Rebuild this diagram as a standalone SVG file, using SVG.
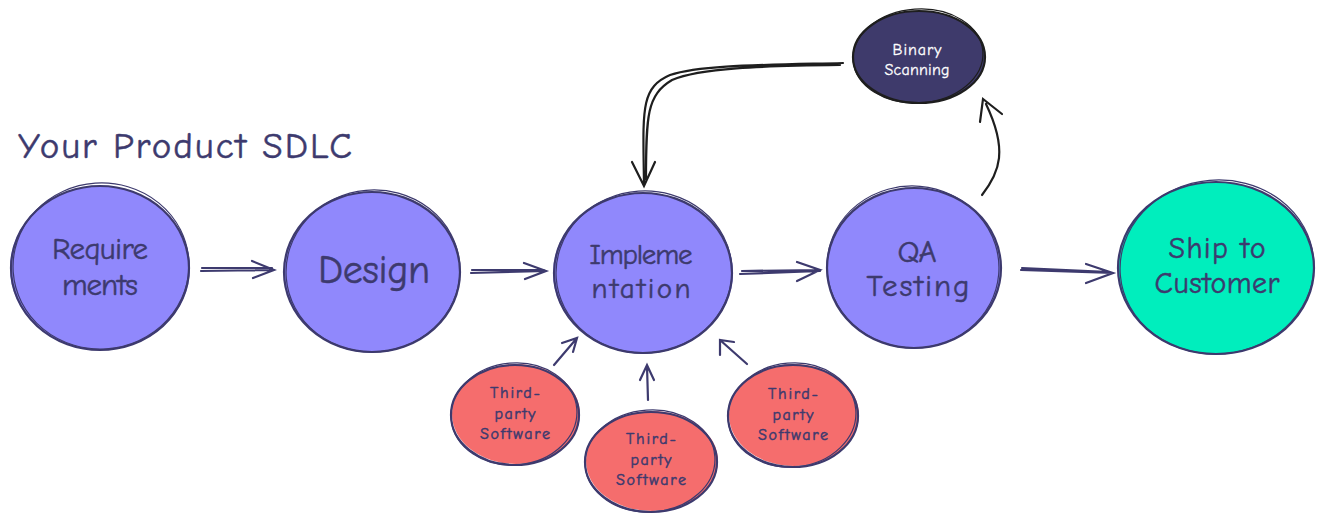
<svg xmlns="http://www.w3.org/2000/svg" width="1324" height="520" viewBox="0 0 1324 520">
<defs>
<style>
.t{font-family:"Comic Neue","Lato","Noto Sans",sans-serif;fill:#3d3a6e;stroke:#3d3a6e;stroke-width:0.5;text-anchor:middle}
.w{fill:#ffffff;stroke:#ffffff;stroke-width:0.3}
.s1{stroke:#3d3a6e;stroke-width:2.2;fill:none}
.s2{stroke:#3d3a6e;stroke-width:1.2;fill:none}
.k1{stroke:#1e1e1e;stroke-width:2.2;fill:none}
.k2{stroke:#1e1e1e;stroke-width:1.2;fill:none}
.purple{fill:#9088fc}
.green{fill:#00eebd}
.red{fill:#f56d6d}
.dark{fill:#3e3a6b}
.c{stroke:#3d3a6e;stroke-width:2.2;fill:none;stroke-linecap:round}
.ck{stroke:#1e1e1e;stroke-width:2.2;fill:none;stroke-linecap:round}
</style>
</defs>
<rect width="1324" height="520" fill="#ffffff"/>
<text class="t" x="18" y="158" textLength="334" lengthAdjust="spacing" style="text-anchor:start;font-size:37px">Your Product SDLC</text>

<g id="connectors">
<path class="c" d="M201 271 L274 270 M202 268 L272 268 M252 261 L274 270 L253 278"/>
<path class="c" d="M471 273 L546 271 M472 270 L544 270 M524 263 L546 271 L525 279"/>
<path class="c" d="M740 274 L820 271 M742 271 L818 270 M797 262 L820 270 L797 281"/>
<path class="c" d="M1021 270 L1113 273 M1022 268 L1110 272 M1086 264 L1113 273 L1086 283"/>
<path class="ck" d="M843 63 C760 65 700 65 670 75 C640 88 643 110 644 185 M840 65 C760 66 700 68 672 80 C647 95 646 115 646 180 M632 162 L644 186 L655 162"/>
<path class="ck" d="M982 195 C1000 172 1008 150 986 104 M980 122 L983 99 L1002 114"/>
<path class="c" d="M554 365 L577 338 M562 343 L577 338 L573 352"/>
<path class="c" d="M648 400 L647 366 M640 380 L647 365 L654 380"/>
<path class="c" d="M747 364 L720 340 M720 355 L720 340 L734 342"/>
</g>

<g id="requirements">
<ellipse class="purple" cx="100" cy="268" rx="90" ry="82"/>
<ellipse class="s1" cx="100" cy="268" rx="89" ry="82"/>
<ellipse class="s2" cx="101" cy="266" rx="88" ry="83" transform="rotate(-4 101 266)"/>
<text class="t" x="100" y="259" font-size="31" textLength="96" lengthAdjust="spacing">Require</text>
<text class="t" x="100" y="295" font-size="31" textLength="76" lengthAdjust="spacing">ments</text>
</g>

<g id="design">
<ellipse class="purple" cx="372" cy="272" rx="88" ry="80"/>
<ellipse class="s1" cx="372" cy="272" rx="88" ry="80"/>
<ellipse class="s2" cx="373" cy="271" rx="87" ry="81" transform="rotate(-5 373 271)"/>
<text class="t" x="374" y="283" font-size="40" textLength="112" lengthAdjust="spacing">Design</text>
</g>

<g id="implementation">
<ellipse class="purple" cx="643" cy="273" rx="90" ry="80"/>
<ellipse class="s1" cx="643" cy="273" rx="89" ry="80"/>
<ellipse class="s2" cx="644" cy="272" rx="88" ry="81" transform="rotate(-4 644 272)"/>
<text class="t" x="641" y="264" font-size="29" textLength="103" lengthAdjust="spacing">Impleme</text>
<text class="t" x="641" y="298" font-size="29" textLength="99" lengthAdjust="spacing">ntation</text>
</g>

<g id="qa-testing">
<ellipse class="purple" cx="914" cy="268" rx="87" ry="80"/>
<ellipse class="s1" cx="914" cy="268" rx="87" ry="80"/>
<ellipse class="s2" cx="913" cy="267" rx="86" ry="81" transform="rotate(5 913 267)"/>
<text class="t" x="917" y="262" font-size="31" textLength="39" lengthAdjust="spacing">QA</text>
<text class="t" x="918" y="296" font-size="31" textLength="103" lengthAdjust="spacing">Testing</text>
</g>

<g id="ship-to-customer">
<ellipse class="green" cx="1216" cy="268" rx="98" ry="86"/>
<ellipse class="s1" cx="1216" cy="268" rx="98" ry="86"/>
<ellipse class="s2" cx="1217" cy="267" rx="97" ry="87" transform="rotate(-5 1217 267)"/>
<text class="t" x="1217" y="258" font-size="30" textLength="97" lengthAdjust="spacing">Ship to</text>
<text class="t" x="1217" y="293" font-size="30" textLength="125" lengthAdjust="spacing">Customer</text>
</g>

<g id="binary-scanning">
<ellipse class="dark" cx="919" cy="57" rx="66" ry="46"/>
<ellipse class="k1" cx="919" cy="57" rx="66" ry="46"/>
<ellipse class="k2" cx="918" cy="56" rx="65" ry="47" transform="rotate(-4 918 56)"/>
<text class="t w" x="917" y="55" font-size="16" textLength="49" lengthAdjust="spacing">Binary</text>
<text class="t w" x="917" y="75" font-size="16" textLength="65" lengthAdjust="spacing">Scanning</text>
</g>

<g id="third-party-left">
<ellipse class="red" cx="516" cy="414" rx="64" ry="50"/>
<ellipse class="s1" cx="515" cy="415" rx="64" ry="50"/>
<ellipse class="s2" cx="514" cy="414" rx="63" ry="51" transform="rotate(-5 514 414)"/>
<text class="t" x="515" y="398" font-size="16" textLength="50" lengthAdjust="spacing">Third-</text>
<text class="t" x="515" y="419" font-size="16" textLength="41" lengthAdjust="spacing">party</text>
<text class="t" x="515" y="439" font-size="16" textLength="70" lengthAdjust="spacing">Software</text>
</g>

<g id="third-party-middle">
<ellipse class="red" cx="652" cy="461" rx="66" ry="50"/>
<ellipse class="s1" cx="651" cy="462" rx="66" ry="50"/>
<ellipse class="s2" cx="650" cy="461" rx="65" ry="51" transform="rotate(-4 650 461)"/>
<text class="t" x="651" y="444" font-size="16" textLength="50" lengthAdjust="spacing">Third-</text>
<text class="t" x="651" y="465" font-size="16" textLength="41" lengthAdjust="spacing">party</text>
<text class="t" x="651" y="485" font-size="16" textLength="70" lengthAdjust="spacing">Software</text>
</g>

<g id="third-party-right">
<ellipse class="red" cx="794" cy="415" rx="65" ry="51"/>
<ellipse class="s1" cx="793" cy="416" rx="65" ry="51"/>
<ellipse class="s2" cx="792" cy="415" rx="64" ry="52" transform="rotate(-5 792 415)"/>
<text class="t" x="793" y="399" font-size="16" textLength="50" lengthAdjust="spacing">Third-</text>
<text class="t" x="793" y="420" font-size="16" textLength="41" lengthAdjust="spacing">party</text>
<text class="t" x="793" y="440" font-size="16" textLength="70" lengthAdjust="spacing">Software</text>
</g>
</svg>
